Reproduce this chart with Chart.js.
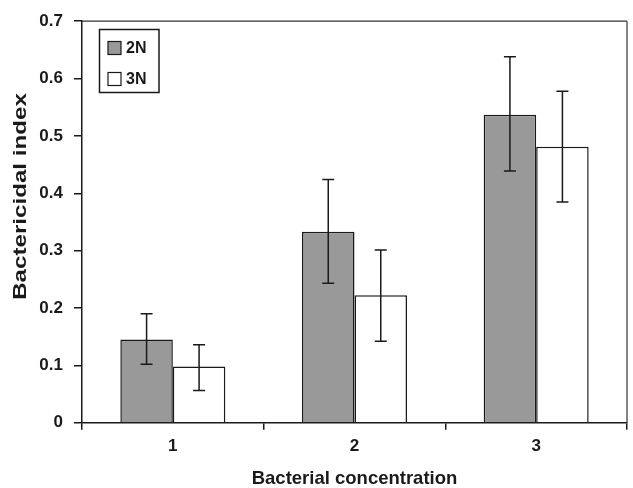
<!DOCTYPE html>
<html>
<head>
<meta charset="utf-8">
<script src="https://cdn.jsdelivr.net/npm/chart.js@4/dist/chart.umd.min.js"></script>
<style>
  html, body { margin: 0; padding: 0; background: #fff; }
  #wrap { width: 633px; height: 488px; position: relative; }
</style>
</head>
<body>
<div id="wrap"><canvas id="c" width="633" height="488"></canvas></div>
<script>
const categories = ['1', '2', '3'];
const seriesLabels = ['2N', '3N'];
const values2N = [0.145, 0.333, 0.537];
const low2N = [0.102, 0.243, 0.439];
const high2N = [0.190, 0.424, 0.638];
const values3N = [0.098, 0.222, 0.481];
const low3N = [0.056, 0.142, 0.385];
const high3N = [0.136, 0.301, 0.578];
const yTicks = [0, 0.1, 0.2, 0.3, 0.4, 0.5, 0.6, 0.7];
const xTitle = 'Bacterial concentration';
const yTitle = 'Bactericidal index';

const FONT = '"Liberation Sans", Arial, sans-serif';
const INK = '#1a1a1a';

const errorBars = {
  id: 'errorBars',
  afterDatasetsDraw(chart) {
    const ctx = chart.ctx;
    const y = chart.scales.y;
    const lows = [low2N, low3N], highs = [high2N, high3N];
    ctx.save();
    ctx.strokeStyle = INK;
    ctx.lineWidth = 1.5;
    chart.data.datasets.forEach((ds, di) => {
      const meta = chart.getDatasetMeta(di);
      meta.data.forEach((bar, i) => {
        const x = bar.x;
        const yl = y.getPixelForValue(lows[di][i]);
        const yh = y.getPixelForValue(highs[di][i]);
        ctx.beginPath();
        ctx.moveTo(x, yl); ctx.lineTo(x, yh);
        ctx.moveTo(x - 6, yl); ctx.lineTo(x + 6, yl);
        ctx.moveTo(x - 6, yh); ctx.lineTo(x + 6, yh);
        ctx.stroke();
      });
    });
    ctx.restore();
  }
};

const frameAndLegend = {
  id: 'frameAndLegend',
  afterDraw(chart) {
    const ctx = chart.ctx;
    const a = chart.chartArea;
    ctx.save();
    ctx.strokeStyle = '#333';
    ctx.lineWidth = 1.2;
    ctx.beginPath();
    ctx.moveTo(a.left, a.top); ctx.lineTo(a.right, a.top);
    ctx.moveTo(a.right, a.top); ctx.lineTo(a.right, a.bottom);
    ctx.stroke();
    // y-axis title (stretched along its length like the reference)
    ctx.save();
    ctx.translate(21.5, 196.5);
    ctx.rotate(-Math.PI / 2);
    ctx.scale(1.38, 1);
    ctx.font = 'bold 17.5px ' + FONT;
    ctx.fillStyle = INK;
    ctx.textAlign = 'center';
    ctx.textBaseline = 'middle';
    ctx.fillText(yTitle, 0, 0);
    ctx.restore();
    // legend box
    const bx = 99.5, by = 29.5, bw = 59.5, bh = 63;
    ctx.fillStyle = '#fff';
    ctx.fillRect(bx, by, bw, bh);
    ctx.strokeStyle = INK;
    ctx.lineWidth = 1.5;
    ctx.strokeRect(bx, by, bw, bh);
    ctx.font = 'bold 16px ' + FONT;
    ctx.textBaseline = 'middle';
    chart.data.datasets.forEach((ds, i) => {
      const cy = 48 + i * 31;
      ctx.fillStyle = ds.backgroundColor;
      ctx.fillRect(108, cy - 6.5, 13, 13);
      ctx.strokeStyle = INK;
      ctx.lineWidth = 1.2;
      ctx.strokeRect(108, cy - 6.5, 13, 13);
      ctx.fillStyle = INK;
      ctx.fillText(ds.label, 126, cy + 1);
    });
    ctx.restore();
  }
};

new Chart(document.getElementById('c'), {
  type: 'bar',
  data: {
    labels: categories,
    datasets: [
      { label: seriesLabels[0], data: values2N, backgroundColor: '#999999', borderColor: INK, borderWidth: 1.5 },
      { label: seriesLabels[1], data: values3N, backgroundColor: '#ffffff', borderColor: INK, borderWidth: 1.5 }
    ]
  },
  options: {
    responsive: false,
    animation: false,
    devicePixelRatio: 1,
    layout: { autoPadding: false, padding: { left: 0, right: 6, top: 16.7, bottom: 0 } },
    plugins: { legend: { display: false }, tooltip: { enabled: false } },
    datasets: { bar: { categoryPercentage: 0.578, barPercentage: 1.0 } },
    scales: {
      x: {
        offset: true,
        grid: { display: true, offset: true, drawOnChartArea: false, drawTicks: true, tickLength: 7, color: INK, lineWidth: 1.5 },
        border: { display: true, color: INK, width: 1.5 },
        ticks: { color: INK, font: { family: FONT, size: 17, weight: 'bold' }, padding: 6 },
        title: { display: true, text: xTitle, color: INK, font: { family: FONT, size: 18.5, weight: 'bold', lineHeight: 1 }, padding: { top: 0, bottom: 0 } },
        afterFit(s) { s.height = 65.3; }
      },
      y: {
        min: 0, max: 0.7,
        afterBuildTicks(s) { s.ticks = yTicks.map(v => ({ value: v })); },
        grid: { display: true, drawOnChartArea: false, drawTicks: true, tickLength: 8, color: INK, lineWidth: 1.5 },
        border: { display: true, color: INK, width: 1.5 },
        ticks: { color: INK, font: { family: FONT, size: 17, weight: 'bold' }, padding: 11,
          callback: v => (v === 0 ? '0' : Number(v).toFixed(1)) },
        title: { display: false, text: yTitle },
        afterFit(s) { s.width = 82; }
      }
    }
  },
  plugins: [errorBars, frameAndLegend]
});
</script>
</body>
</html>
